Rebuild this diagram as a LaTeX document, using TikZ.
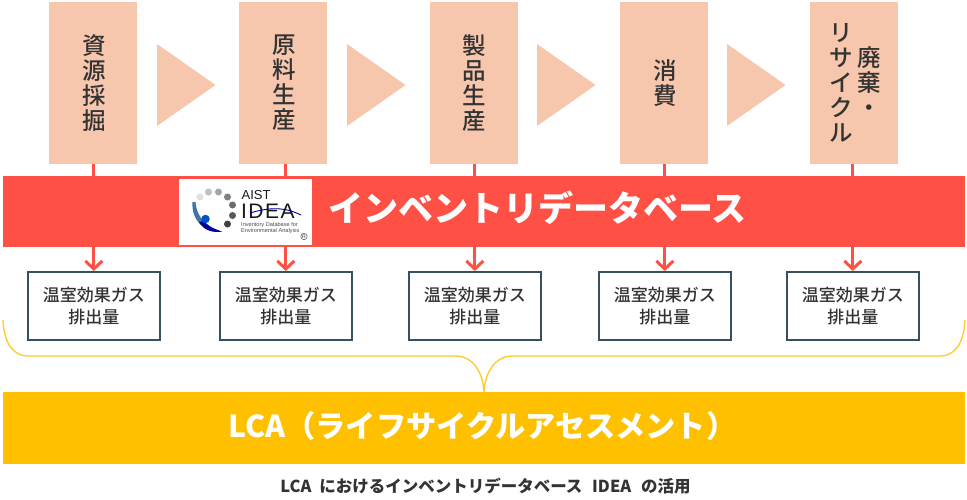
\documentclass[tikz,border=0pt]{standalone}
\usepackage{fontspec}
\setmainfont{Noto Sans CJK JP}
\newfontfamily\jpmed{Noto Sans CJK JP Medium}
\newfontfamily\logofont{Liberation Sans}
\newfontfamily\logowide[LetterSpace=7]{Liberation Sans}
\usetikzlibrary{arrows.meta}
\definecolor{stagefill}{HTML}{F6C6AD}
\definecolor{bandred}{HTML}{FF5045}
\definecolor{bandyellow}{HTML}{FFC000}
\definecolor{outline}{HTML}{36505F}
\definecolor{inktext}{HTML}{333333}
\tikzset{
  stagebox/.style={fill=stagefill,draw=none,minimum width=88pt,minimum height=162pt,inner sep=0pt,anchor=north west},
  stagetext/.style={text=inktext,align=center,inner sep=0pt,font=\jpmed\fontsize{23.5}{25}\selectfont},
  chevronshape/.style={fill=stagefill,draw=none},
  outbox/.style={fill=white,draw=outline,line width=1.6pt,minimum width=132pt,minimum height=68pt,inner sep=0pt,align=center,text=inktext,font=\jpmed\fontsize{17}{22}\selectfont,anchor=north west},
  band/.style={draw=none,inner sep=0pt,minimum width=962pt,anchor=north west},
  feed/.style={draw=bandred,line width=3pt},
  feedarrow/.style={draw=bandred,line width=3pt,-{Straight Barb[length=8pt,width=17pt,line width=3pt]}},
  bracket/.style={draw=bandyellow!85!white,line width=1.3pt},
  logodot/.style={circle,inner sep=0pt,minimum size=7pt,draw=none}
}
\begin{document}
\begin{tikzpicture}[x=1pt,y=-1pt]
\useasboundingbox (0,0) rectangle (967,499);
% stages
\node[stagebox] (s1) at (49,2) {};
\node[stagebox] (s2) at (239,2) {};
\node[stagebox] (s3) at (430,2) {};
\node[stagebox] (s4) at (619.5,2) {};
\node[stagebox] (s5) at (809.5,2) {};
\node[stagetext] (t1) at (94.5,83) {資\\源\\採\\掘};
\node[stagetext] (t2) at (284.5,83) {原\\料\\生\\産};
\node[stagetext] (t3) at (474.5,83) {製\\品\\生\\産};
\node[stagetext] (t4) at (665.5,83) {消\\費};
\node[stagetext] (t5a) at (869.5,81.5) {廃\\棄\\・};
\node[stagetext] (t5b) at (841,83) {リ\\サ\\イ\\ク\\ル};
% chevrons
\foreach \x in {157,347,537,727}{
  \fill[chevronshape] (\x,44) -- (\x+58.5,85) -- (\x,126) -- cycle;
}
% bands
\node[band,fill=bandred,minimum height=71pt] (inv) at (3,176) {};
\node[band,fill=bandyellow,minimum height=72pt] (lca) at (3,392) {};
% outputs
\node[outbox] (o1) at (27,271) {温室効果ガス\\排出量};
\node[outbox] (o2) at (219,271) {温室効果ガス\\排出量};
\node[outbox] (o3) at (408,271) {温室効果ガス\\排出量};
\node[outbox] (o4) at (598,271) {温室効果ガス\\排出量};
\node[outbox] (o5) at (786,271) {温室効果ガス\\排出量};
% connectors
\foreach \i in {1,...,5}{
  \draw[feed] (o\i.north |- s\i.south) -- (o\i.north |- inv.north);
  \draw[feedarrow] (o\i.north |- inv.south) -- (o\i.north);
}
% bracket
\coordinate (bl) at (3,320);
\coordinate (br) at (965,320);
\coordinate (bm) at (484,392);
\draw[bracket] (bl) .. controls (4,343) and (13,356) .. (28,356) -- (455,356)
  .. controls (473,356) and (483,372) .. (bm)
  .. controls (485,372) and (495,356) .. (513,356) -- (940,356)
  .. controls (955,356) and (964,343) .. (br);
% band labels
\node[text=white,inner sep=0pt,font=\bfseries\fontsize{35}{36}\selectfont] (invt) at (537.5,208) {インベントリデータベース};
\node[text=white,inner sep=0pt,font=\bfseries\fontsize{30.2}{32}\selectfont] (lcat) at (482.5,426) {LCA（ライフサイクルアセスメント）};
\node[text=inktext,inner sep=0pt,font=\bfseries\fontsize{16.5}{18}\selectfont] (cap) at (485.5,486) {LCA\hspace{4pt} におけるインベントリデータベース\hspace{6pt} IDEA\hspace{6pt} の活用};
% logo
\node[fill=white,draw=none,minimum width=133pt,minimum height=66pt,inner sep=0pt,anchor=north west] (logo) at (179,179) {};
\foreach \px/\py/\c in {200/197/12,208.5/192/25,218.5/192/35,227.5/197/50,232.5/205/58,232.5/215.5/65,227.5/224/75}{
  \node[logodot,fill=black!\c] at (\px,\py) {};
}
\fill[cyan!70!blue!70!black] (192.5,202) .. controls (191,220) and (205,234) .. (222,231.5) .. controls (210,229) and (197,220) .. (195.5,202) -- cycle;
\fill[blue!60!black] (199,222) .. controls (204,231) and (214,233) .. (222,231.5) .. controls (214,229) and (208,226) .. (204,221) -- cycle;
\node[circle,inner sep=0pt,minimum size=8.5pt,fill=blue!60!cyan!80!black] (logoball) at (205.5,219) {};
\node[inner sep=0pt,anchor=west,text=black!90,font=\logofont\fontsize{13}{14}\selectfont] (logoa) at (241.5,195) {AIST};
\node[inner sep=0pt,anchor=west,text=black!90,font=\logowide\fontsize{21}{22}\selectfont] (logoi) at (241,211) {IDEA};
\draw[blue!60!black,line width=0.9pt] (250,213) .. controls (270,207) and (285,207) .. (301,215);
\node[inner sep=0pt,anchor=north west,align=left,text=black!70,font=\logofont\fontsize{5.6}{6}\selectfont] (logos) at (241,222.5) {Inventory Database for\\Environmental Analysis};
\node[circle,draw=black!70,line width=0.5pt,inner sep=0.5pt,font=\logofont\fontsize{5}{5}\selectfont,text=black!80] (logor) at (304,236.5) {R};
\end{tikzpicture}
\end{document}
